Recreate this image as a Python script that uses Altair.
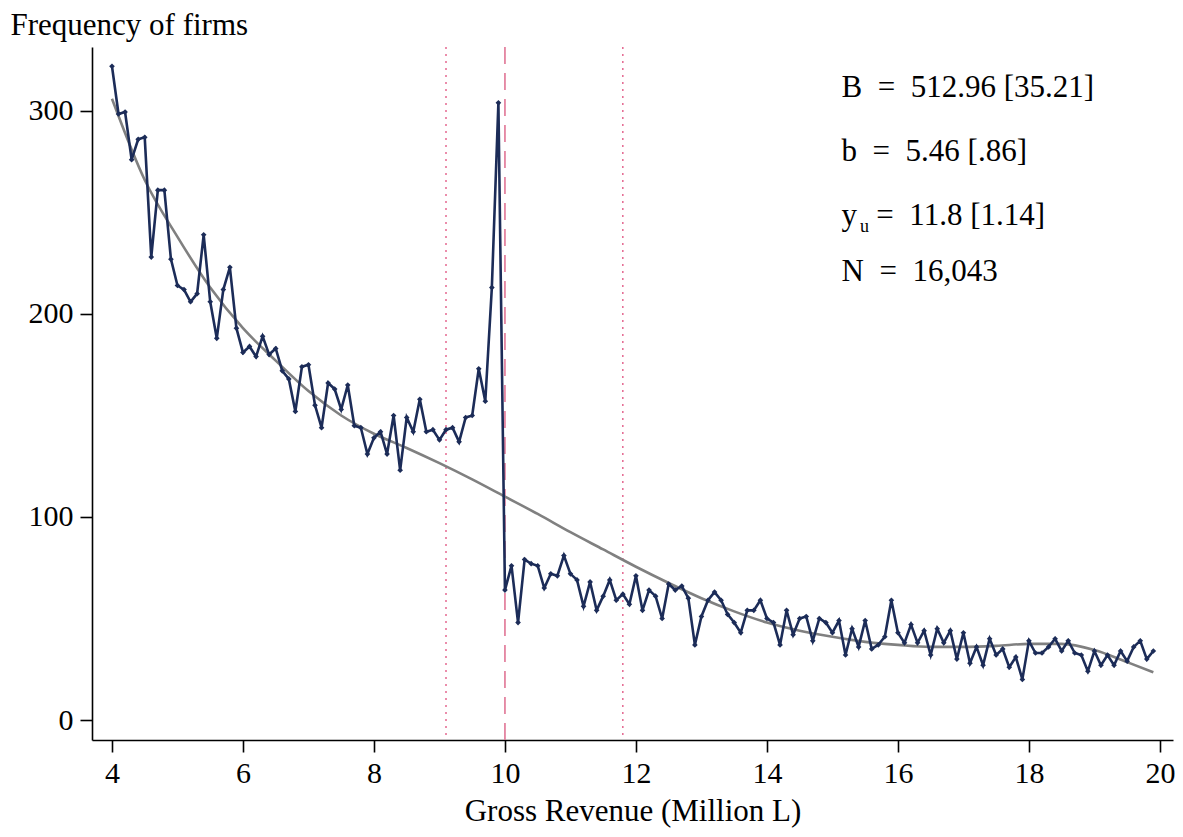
import pandas as pd
import altair as alt

# bins of 0.1 million, 4.0 ... 19.9
revenue = [round(4 + 0.1 * i, 1) for i in range(160)]
firms = [
    322, 298.5, 299.5, 276, 286, 287, 228, 261, 261, 227,
    214, 212, 206, 210, 239, 206, 188, 212, 223, 193,
    181, 184, 179, 189, 180, 183, 172, 168, 152, 174,
    175, 155, 144, 166, 163, 153, 165, 145, 144, 131,
    139, 142, 131, 150, 123, 149, 142, 158, 142, 143,
    138, 143, 144, 137, 149, 150, 173, 157, 213, 304,
    64, 76, 48, 79, 77, 76, 65, 72, 71, 81,
    72, 69, 56, 68, 54, 61, 69, 59, 62, 57,
    71, 54, 64, 61, 50, 67, 64, 66, 60, 37,
    51, 59, 63, 59, 52, 48, 43, 54, 54, 59,
    50, 48, 37, 54, 42, 50, 51, 39, 50, 48,
    43, 49, 32, 45, 36, 49, 35, 37, 41, 59,
    43, 38, 47, 38, 44, 32, 45, 38, 44, 30,
    43, 28, 36, 27, 40, 32, 35, 26, 31, 20,
    39, 33, 33, 36, 40, 34, 39, 33, 32, 24,
    34, 27, 32, 27, 34, 29, 36, 39, 30, 34,
]

# counterfactual fit, read every 0.5
fit_x = [4.0, 4.5, 5.0, 5.5, 6.0, 6.5, 7.0, 7.5, 8.0, 8.5, 9.0, 9.5, 10.0,
         10.5, 11.0, 11.5, 12.0, 12.5, 13.0, 13.5, 14.0, 14.5, 15.0, 15.5,
         16.0, 16.5, 17.0, 17.5, 18.0, 18.5, 19.0, 19.5, 19.9]
fit_y = [306, 266, 238, 213, 193, 177, 162, 150, 141, 134, 126.5, 118.5, 110,
         101.5, 92.5, 84, 75.5, 67.5, 60, 53.5, 48, 44, 41, 38.5,
         37, 36, 36, 36.5, 37.5, 37.5, 34.5, 28.5, 23.5]

threshold = [10.0]
bounds = [9.1, 11.8]

notes = ["B\u2002=\u2002512.96 [35.21]", "b\u2002=\u20025.46 [.86]", "y",
         "=\u200211.8 [1.14]", "N\u2002=\u200216,043"]
notes_x = [15.14, 15.14, 15.14, 15.67, 15.14]
notes_y = [306.9, 275.4, 243.8, 243.8, 216.3]
sub_note = ["u"]

obs = pd.DataFrame({"x": revenue, "y": firms})
fit = pd.DataFrame({"x": fit_x, "y": fit_y})
txt = pd.DataFrame({"x": notes_x, "y": notes_y, "label": notes})
sub = pd.DataFrame({"x": [15.42], "y": [240.4], "label": sub_note})

xs = alt.Scale(domain=[3.695, 20.2], nice=False, zero=False)
ys = alt.Scale(domain=[-9.85, 331.5], nice=False, zero=False)

def X():
    return alt.X("x:Q", scale=xs, axis=alt.Axis(
        values=[4, 6, 8, 10, 12, 14, 16, 18, 20], title="Gross Revenue (Million L)",
        grid=False, tickSize=12, labelPadding=6, titleY=80, titleBaseline="alphabetic"))

def Y():
    return alt.Y("y:Q", scale=ys, axis=alt.Axis(
        values=[0, 100, 200, 300], title="Frequency of firms", grid=False,
        tickSize=12, labelPadding=7, titleAngle=0, titleAlign="left",
        titleBaseline="alphabetic", titleX=-82, titleY=-13))

dashed = alt.Chart(pd.DataFrame({"x": threshold})).mark_rule(
    color="#e07595", strokeWidth=1.6, strokeDash=[17, 9]
).encode(x=X())

dotted = alt.Chart(pd.DataFrame({"x": bounds})).mark_rule(
    color="#e0507f", strokeWidth=1.3, strokeDash=[2, 5]
).encode(x=X())

fitline = alt.Chart(fit).mark_line(
    color="#808080", strokeWidth=2.6, interpolate="monotone"
).encode(x=X(), y=Y())

dataline = alt.Chart(obs).mark_line(
    color="#1c2c58", strokeWidth=2.6,
    point=alt.OverlayMarkDef(shape="diamond", size=32, filled=True, color="#1c2c58")
).encode(x=X(), y=Y())

labels = alt.Chart(txt).mark_text(
    align="left", baseline="alphabetic", fontSize=31, font="Liberation Serif", color="black"
).encode(x=X(), y=Y(), text="label:N")

sublabel = alt.Chart(sub).mark_text(
    align="left", baseline="alphabetic", fontSize=18, font="Liberation Serif", color="black"
).encode(x=X(), y=Y(), text="label:N")

chart = alt.layer(dashed, dotted, fitline, dataline, labels, sublabel).properties(
    width=1081, height=693,
    autosize=alt.AutoSizeParams(type="none"),
    padding={"left": 84, "top": 39, "right": 2, "bottom": 89},
    background="white",
).configure_view(stroke=None).configure_axis(
    labelFont="Liberation Serif", titleFont="Liberation Serif",
    labelFontSize=30, titleFontSize=31, labelColor="black", titleColor="black",
    titleFontWeight="normal", domainColor="black", tickColor="black",
    domainWidth=1.6, tickWidth=1.6,
)

chart.save("out.html", embed_options={"renderer": "svg", "actions": False})
